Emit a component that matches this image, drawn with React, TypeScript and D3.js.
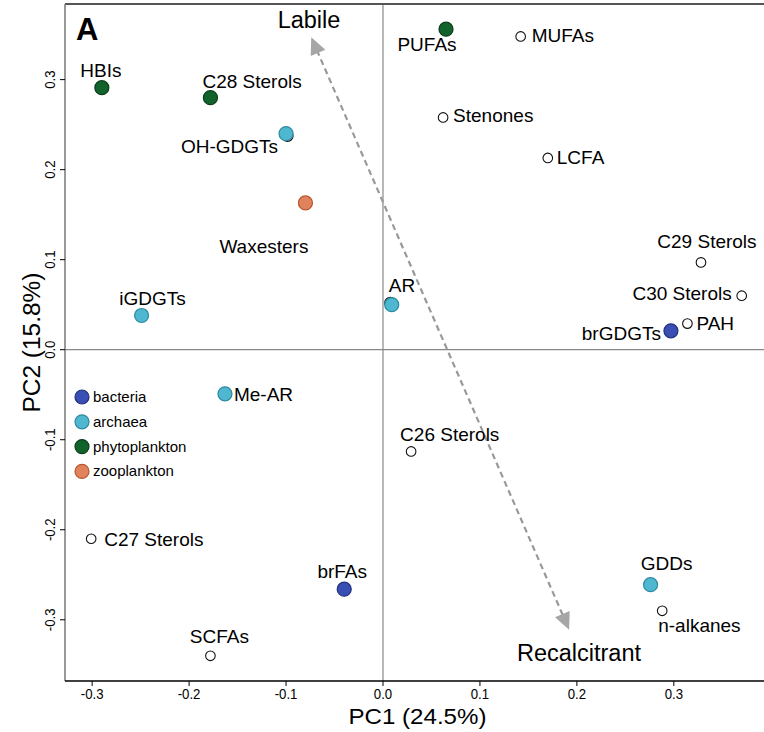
import React from "react";
import * as d3 from "d3";

const names = ["HBIs","C28 Sterols","OH-GDGTs","PUFAs","MUFAs","Stenones","LCFA","Waxesters","C29 Sterols","C30 Sterols","PAH","brGDGTs","iGDGTs","AR","Me-AR","C26 Sterols","C27 Sterols","brFAs","SCFAs","GDDs","n-alkanes"];
const pc1 = [-0.290,-0.178,-0.100,0.065,0.142,0.062,0.170,-0.080,0.328,0.370,0.314,0.297,-0.249,0.009,-0.163,0.029,-0.301,-0.040,-0.178,0.276,0.288];
const pc2 = [0.291,0.280,0.240,0.356,0.348,0.258,0.213,0.163,0.097,0.060,0.029,0.021,0.038,0.050,-0.049,-0.113,-0.210,-0.266,-0.340,-0.261,-0.290];
const groups = ["phytoplankton","phytoplankton","archaea","phytoplankton","none","none","none","zooplankton","none","none","none","bacteria","archaea","archaea","archaea","none","none","bacteria","none","archaea","none"];

// hidden (unlabelled) points lying beneath OH-GDGTs and AR
const hiddenPc1 = [-0.0985, 0.0075];
const hiddenPc2 = [0.2375, 0.052];

const legendGroups = ["bacteria","archaea","phytoplankton","zooplankton"];
const xTicks = [-0.3,-0.2,-0.1,0.0,0.1,0.2,0.3];
const yTicks = [-0.3,-0.2,-0.1,0.0,0.1,0.2,0.3];
const arrowStart = [-0.074, 0.347];
const arrowEnd = [0.192, -0.311];

// label placement: [anchor, dx, dy]
const labelPlace: [string, number, number][] = [
  ["middle", -1, -11],  // HBIs
  ["start", -8, -10],   // C28
  ["end", -8, 19],      // OH-GDGTs
  ["middle", -19, 22],  // PUFAs
  ["start", 11, 6],     // MUFAs
  ["start", 10, 5],     // Stenones
  ["start", 9, 6],      // LCFA
  ["end", 3, 50],       // Waxesters
  ["middle", 6, -14],   // C29
  ["end", -10, 4],      // C30
  ["start", 9, 6],      // PAH
  ["end", -10, 9],      // brGDGTs
  ["middle", 11, -10],  // iGDGTs
  ["start", -3, -13],   // AR
  ["start", 9, 7],      // Me-AR
  ["start", -11, -10],  // C26
  ["start", 13, 7],     // C27
  ["middle", -2, -11],  // brFAs
  ["middle", 9, -13],   // SCFAs
  ["middle", 16, -15],  // GDDs
  ["start", -4, 21],    // n-alkanes
];

const fill: Record<string, string> = {
  bacteria: "#3a4fb4",
  archaea: "#4fb7cf",
  phytoplankton: "#11632b",
  zooplankton: "#e0835c",
  none: "#ffffff",
};
const stroke: Record<string, string> = {
  bacteria: "#23307a",
  archaea: "#2d8aa0",
  phytoplankton: "#0a3d19",
  zooplankton: "#b8542c",
  none: "#111111",
};

const W = 764, H = 732;
const L = 65, R = 764, T = 4, B = 681;
const FONT = "'Liberation Sans', Arial, Helvetica, sans-serif";

export default function App() {
  const x = d3.scaleLinear().domain([-0.328, 0.393]).range([L, R]);
  const y = d3.scaleLinear().domain([-0.368, 0.384]).range([B, T]);
  const fmt = (v: number) => d3.format(".1f")(v).replace("\u2212", "-");

  const ax1 = x(arrowStart[0]), ay1 = y(arrowStart[1]);
  const ax2 = x(arrowEnd[0]), ay2 = y(arrowEnd[1]);
  const ang = Math.atan2(ay2 - ay1, ax2 - ax1);
  const headLen = 17, headW = 8;
  const head = (px: number, py: number, a: number) => {
    const bx = px - headLen * Math.cos(a), by = py - headLen * Math.sin(a);
    const nx = -Math.sin(a), ny = Math.cos(a);
    return `M${px},${py}L${bx + nx * headW},${by + ny * headW}L${bx - nx * headW},${by - ny * headW}Z`;
  };

  const pts = names.map((n, i) => ({ n, x: x(pc1[i]), y: y(pc2[i]), g: groups[i], lp: labelPlace[i] }));
  const order = pts.map((p, i) => i).sort((a, b) => (pts[a].g === "none" ? 0 : 1) - (pts[b].g === "none" ? 0 : 1));

  return (
    <svg width={W} height={H} style={{ position: "absolute", left: 0, top: 0, background: "#fff" }} fontFamily={FONT}>
      {/* zero lines */}
      <line x1={x(0)} x2={x(0)} y1={T} y2={B} stroke="#888" strokeWidth={1.2} />
      <line x1={L} x2={R} y1={y(0)} y2={y(0)} stroke="#888" strokeWidth={1.2} />
      {/* frame */}
      <line x1={L} x2={R} y1={T} y2={T} stroke="#555" strokeWidth={2} />
      <line x1={L} x2={L} y1={T} y2={B} stroke="#777" strokeWidth={1.5} />
      <line x1={L} x2={R} y1={B} y2={B} stroke="#000" strokeWidth={1.5} />
      {/* x ticks */}
      {xTicks.map((t) => (
        <g key={"x" + t}>
          <line x1={x(t)} x2={x(t)} y1={B} y2={B + 5} stroke="#000" />
          <text x={x(t)} y={B + 18} textAnchor="middle" fontSize={15} transform={`translate(${x(t)},0) scale(0.88,1) translate(${-x(t)},0)`}>{fmt(t)}</text>
        </g>
      ))}
      {yTicks.map((t) => (
        <g key={"y" + t}>
          <line x1={L - 5} x2={L} y1={y(t)} y2={y(t)} stroke="#000" />
          <text transform={`translate(${L - 10},${y(t)}) rotate(-90) scale(0.88,1)`} textAnchor="middle" fontSize={15}>{fmt(t)}</text>
        </g>
      ))}
      <text x={(L + R) / 2 + 3} y={724} textAnchor="middle" fontSize={22} textLength={138} lengthAdjust="spacingAndGlyphs">PC1 (24.5%)</text>
      <text transform={`translate(40,${(T + B) / 2}) rotate(-90)`} textAnchor="middle" fontSize={23} textLength={140} lengthAdjust="spacingAndGlyphs">PC2 (15.8%)</text>

      {/* arrow */}
      <line x1={ax1 + 14 * Math.cos(ang)} y1={ay1 + 14 * Math.sin(ang)} x2={ax2 - 14 * Math.cos(ang)} y2={ay2 - 14 * Math.sin(ang)}
        stroke="#999" strokeWidth={2.2} strokeDasharray="6,4" />
      <path d={head(ax1, ay1, ang + Math.PI)} fill="#a6a6a6" />
      <path d={head(ax2, ay2, ang)} fill="#a6a6a6" />
      <text x={309} y={28} textAnchor="middle" fontSize={23.5}>Labile</text>
      <text x={579} y={661} textAnchor="middle" fontSize={23.5}>Recalcitrant</text>

      <text x={76} y={40} fontSize={31} fontWeight="bold">A</text>

      {/* hidden points */}
      {hiddenPc1.map((v, i) => (
        <circle key={"h" + i} cx={x(v)} cy={y(hiddenPc2[i])} r={5.5} fill="#fff" stroke="#111" strokeWidth={1.2} />
      ))}
      {/* points */}
      {order.map((i) => {
        const p = pts[i];
        const big = p.g !== "none";
        return <circle key={p.n} cx={p.x} cy={p.y} r={big ? 7 : 4.8} fill={fill[p.g]} stroke={stroke[p.g]} strokeWidth={big ? 1.2 : 1.1} />;
      })}
      {pts.map((p) => (
        <text key={"t" + p.n} x={p.x + p.lp[1]} y={p.y + p.lp[2]} textAnchor={p.lp[0] as any} fontSize={19}>{p.n}</text>
      ))}

      {/* legend */}
      {legendGroups.map((g, i) => (
        <g key={g}>
          <circle cx={82} cy={397 + i * 24.8} r={7} fill={fill[g]} stroke={stroke[g]} strokeWidth={1.2} />
          <text x={93} y={402 + i * 24.8} fontSize={15}>{g}</text>
        </g>
      ))}
    </svg>
  );
}
